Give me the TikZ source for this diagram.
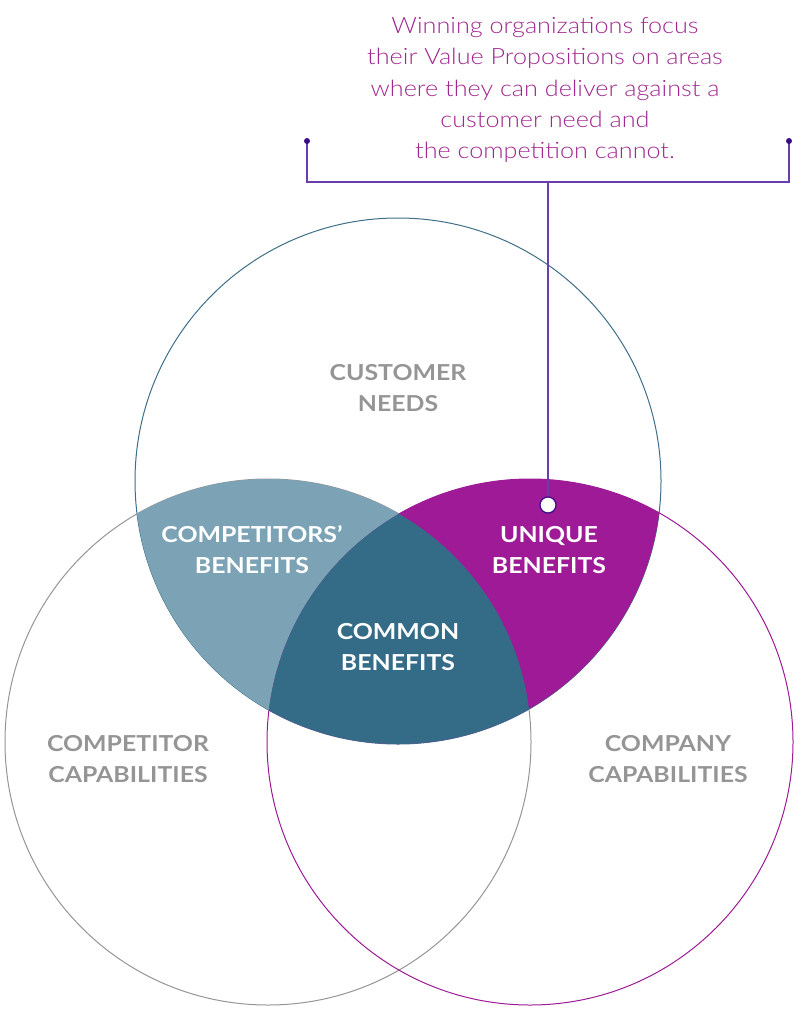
\documentclass[tikz,border=0pt]{standalone}
\usepackage{fontspec}
\setmainfont{Lato}
\newfontfamily\labelfont[FakeStretch=1.13]{Lato}
\newfontfamily\notefont[FakeStretch=1.12]{Lato Light}
\definecolor{needline}{HTML}{3E6F88}
\definecolor{compgray}{HTML}{959595}
\definecolor{uniquepurple}{HTML}{9E1A96}
\definecolor{commonteal}{HTML}{346C88}
\definecolor{rivalblue}{HTML}{7BA3B5}
\definecolor{calloutline}{HTML}{6A3DAE}
\definecolor{calloutdot}{HTML}{3A0C86}
\definecolor{callouttext}{HTML}{A0278F}

\begin{document}
\begin{tikzpicture}[x=1pt,y=-1pt,
  setlabel/.style={text=compgray,font=\labelfont\bfseries\fontsize{22}{31}\selectfont,align=center},
  arealabel/.style={text=white,font=\labelfont\bfseries\fontsize{22}{31}\selectfont,align=center},
  bracket/.style={draw=calloutline,line width=1.4pt}]
  \useasboundingbox (0,0) rectangle (800,1027);
  % circle outlines
  \draw[needline,line width=1pt] (398,481) circle[radius=263]; % customer needs
  \draw[compgray,line width=1pt] (268,742) circle[radius=263]; % competitor capabilities
  \draw[uniquepurple,line width=1pt] (530,742) circle[radius=263]; % company capabilities
  % competitors' benefits
  \begin{scope}
    \clip (398,481) circle[radius=263];
    \fill[rivalblue] (268,742) circle[radius=263];
  \end{scope}
  % unique benefits
  \begin{scope}
    \clip (398,481) circle[radius=263];
    \fill[uniquepurple] (530,742) circle[radius=263];
  \end{scope}
  % common benefits
  \begin{scope}
    \clip (398,481) circle[radius=263];
    \clip (268,742) circle[radius=263];
    \fill[commonteal] (530,742) circle[radius=263];
  \end{scope}
  % labels
  \node[setlabel] (needs) at (398,388) {CUSTOMER\\NEEDS};
  \node[setlabel] (rivalcap) at (128,759) {COMPETITOR\\CAPABILITIES};
  \node[setlabel] (owncap) at (668,759) {COMPANY\\CAPABILITIES};
  \node[arealabel] (rivalben) at (252,550) {COMPETITORS’\\BENEFITS};
  \node[arealabel] (uniqueben) at (549,550) {UNIQUE\\BENEFITS};
  \node[arealabel] (commonben) at (398,647) {COMMON\\BENEFITS};
  % callout
  \node[text=callouttext,font=\notefont\fontsize{22.5}{31.2}\selectfont,align=center] (note) at (545,90)
    {Winning organizations focus\\their Value Propositions on areas\\where they can deliver against a\\customer need and\\the competition cannot.};
  \coordinate (bl) at (307,141);
  \coordinate (br) at (789,141);
  \coordinate (stem) at (548,182);
  \draw[bracket] (bl) -- (bl |- stem) -- (br |- stem) -- (br);
  \fill[calloutdot] (bl) circle[radius=3];
  \fill[calloutdot] (br) circle[radius=3];
  \node[circle,draw=calloutdot,fill=white,line width=1.2pt,minimum size=16pt,inner sep=0pt] (pin) at (548,505) {};
  \draw[bracket] (stem) -- (pin);
\end{tikzpicture}
\end{document}
